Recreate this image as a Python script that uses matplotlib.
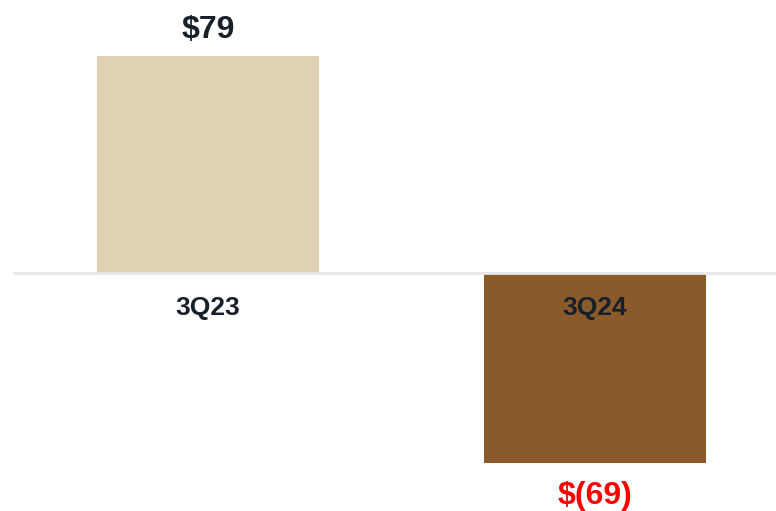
import matplotlib.pyplot as plt

plt.rcParams['font.family'] = ['Liberation Sans', 'DejaVu Sans']

quarters = ['3Q23', '3Q24']
values = [79, -69]
value_labels = ['$79', '$(69)']
bar_colors = ['#e0d1b0', '#8b5a2b']
label_colors = ['#17202a', '#ff0000']

fig = plt.figure(figsize=(7.76, 5.11), dpi=100)
ax = fig.add_axes([0, 0, 1, 1])

x = range(len(quarters))
bars = ax.bar(x, values, width=0.574, color=bar_colors, zorder=2)

# zero line across the plot, drawn over the bars
ax.axhline(0, xmin=0.018, xmax=1, color='#e8e8e8', linewidth=2, zorder=3)

for i, (v, lab) in enumerate(zip(values, value_labels)):
    off = 18.5 if v > 0 else -23.5
    ax.annotate(lab, (i, v), xytext=(0, off), textcoords='offset points',
                ha='center', va='center', fontsize=23, fontweight='bold',
                color=label_colors[i])
    ax.annotate(quarters[i], (i, 0), xytext=(0, -25), textcoords='offset points',
                ha='center', va='center', fontsize=19, fontweight='bold',
                color='#17202a', zorder=4)

ax.set_xlim(-0.537, 1.468)
ax.set_ylim(-86.5, 99.3)
ax.axis('off')

fig.savefig('out.png', dpi=100)
